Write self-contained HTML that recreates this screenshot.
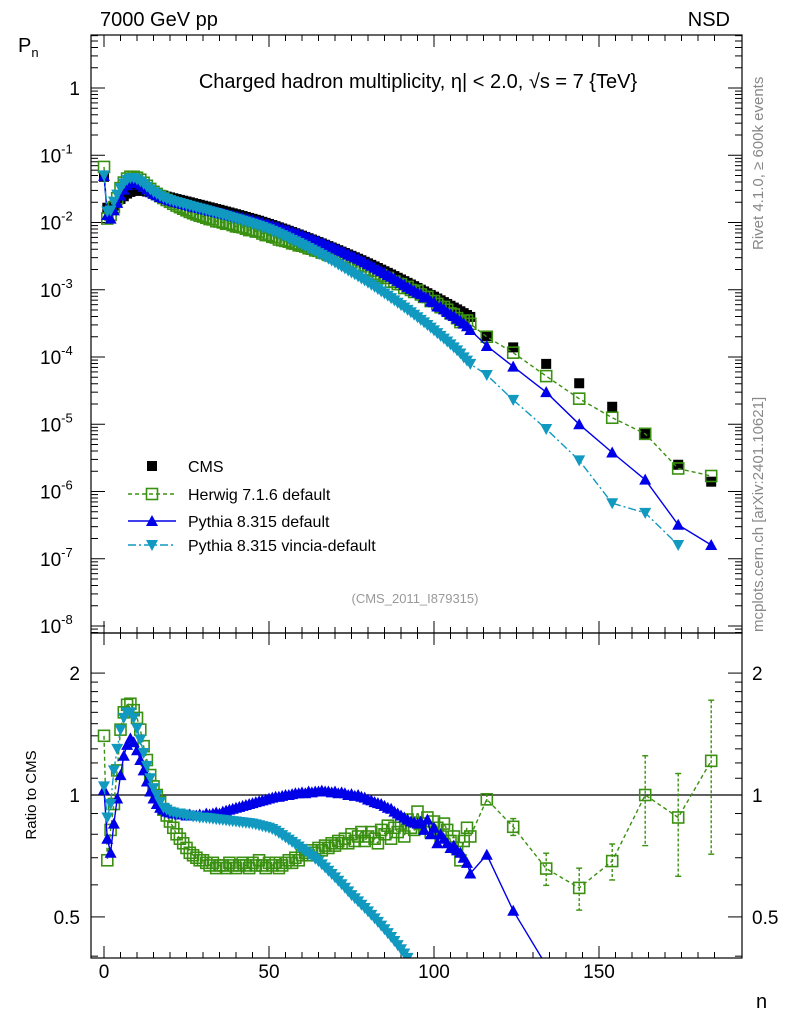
<!DOCTYPE html>
<html><head><meta charset="utf-8"><style>
html,body{margin:0;padding:0;background:#fff;width:786px;height:1024px;overflow:hidden;}
svg{display:block;font-family:"Liberation Sans",sans-serif;}
</style></head><body>
<svg id="chart" width="786" height="1024" viewBox="0 0 786 1024">
<defs>
<clipPath id="clipMain"><rect x="91" y="35" width="651" height="598"/></clipPath>
<clipPath id="clipRatio"><rect x="91" y="633" width="651" height="325"/></clipPath>
</defs>
<text x="100" y="26" font-size="20">7000 GeV pp</text>
<text x="730" y="26" font-size="20" text-anchor="end">NSD</text>
<text x="418" y="88" font-size="20" text-anchor="middle">Charged hadron multiplicity, η| &lt; 2.0, √s = 7 {TeV}</text>
<text x="415" y="603" font-size="13" fill="#999" text-anchor="middle">(CMS_2011_I879315)</text>
<text transform="translate(763,250) rotate(-90)" font-size="15" fill="#888">Rivet 4.1.0, ≥ 600k events</text>
<text transform="translate(763,632) rotate(-90)" font-size="15" fill="#888">mcplots.cern.ch [arXiv:2401.10621]</text>
<text x="18" y="52" font-size="20">P<tspan font-size="13" dy="5">n</tspan></text>
<text transform="translate(36,795) rotate(-90)" font-size="15" text-anchor="middle">Ratio to CMS</text>
<text x="756" y="1008" font-size="20">n</text>
<g id="axes"></g>
<g id="mainMarks" clip-path="url(#clipMain)"></g>
<g id="ratioMarks" clip-path="url(#clipRatio)"></g>
<g id="legend"></g>
<rect x="91" y="35" width="651" height="598" fill="none" stroke="#000" stroke-width="1.2"/>
<rect x="91" y="633" width="651" height="325" fill="none" stroke="#000" stroke-width="1.2"/>
</svg>
<script>
// ---- data ----
const cmsLog10 = [-1.32,-1.78,-1.80,-1.75,-1.70,-1.65,-1.61,-1.57,-1.545,-1.53,-1.525,-1.525,-1.53,-1.54,-1.55,-1.565,-1.575,-1.59,
-1.60,-1.615,-1.627,-1.64,-1.652,-1.664,-1.676,-1.688,-1.70,-1.713,-1.725,-1.737,-1.75,-1.762,-1.775,-1.787,-1.80,-1.812,-1.825,-1.838,-1.851,-1.864,-1.877,-1.89,-1.904,-1.918,-1.932,-1.946,-1.96,-1.974,
-1.990,-2.006,-2.022,-2.038,-2.055,-2.072,-2.089,-2.106,-2.124,-2.142,-2.160,-2.178,-2.196,-2.215,-2.234,-2.253,-2.272,-2.291,-2.311,-2.331,-2.351,-2.371,-2.391,-2.412,-2.433,-2.454,-2.475,-2.496,-2.517,-2.539,-2.561,
-2.584,-2.607,-2.630,-2.653,-2.677,-2.701,-2.725,-2.749,-2.773,-2.797,-2.822,-2.847,-2.872,-2.897,-2.922,-2.947,-2.973,-2.999,-3.025,-3.051,-3.077,-3.103,-3.130,-3.157,-3.184,-3.211,-3.238,-3.265,-3.292,-3.320,-3.348,-3.376,-3.404];
const herwigRatio = [1.40,0.69,0.82,0.95,1.15,1.45,1.60,1.67,1.68,1.62,1.55,1.45,1.32,1.22,1.12,1.05,1.00,0.96,0.92,0.89,0.86,0.83,0.80,0.78,0.76,0.74,0.72,0.71,0.70,0.69,0.69,0.68,0.67,0.68,0.66,0.67,0.67,0.66,0.68,0.67,0.66,0.67,0.68,0.67,0.66,0.68,0.67,0.69,0.67,0.66,0.68,0.67,0.68,0.66,0.67,0.68,0.69,0.68,0.70,0.69,0.71,0.72,0.71,0.73,0.72,0.74,0.73,0.75,0.74,0.76,0.75,0.77,0.76,0.78,0.76,0.80,0.77,0.79,0.81,0.77,0.79,0.81,0.78,0.76,0.82,0.80,0.84,0.78,0.83,0.81,0.85,0.79,0.87,0.83,0.82,0.91,0.85,0.83,0.88,0.81,0.86,0.83,0.79,0.85,0.82,0.77,0.79,0.74,0.69,0.77,0.83,0.79];
const pythiaRatio = [1.03,0.78,0.72,0.85,0.98,1.12,1.25,1.33,1.38,1.35,1.29,1.22,1.15,1.08,1.02,0.98,0.95,0.93,0.92,0.91,0.905,0.90,0.90,0.895,0.895,0.89,0.895,0.89,0.89,0.895,0.89,0.90,0.895,0.90,0.905,0.90,0.91,0.915,0.92,0.925,0.93,0.935,0.94,0.945,0.95,0.955,0.96,0.965,0.97,0.975,0.98,0.985,0.99,0.99,0.995,1.0,1.0,1.005,1.01,1.01,1.015,1.01,1.02,1.015,1.02,1.02,1.025,1.02,1.02,1.015,1.02,1.01,1.015,1.01,1.0,1.005,0.995,1.0,0.99,0.985,0.975,0.97,0.96,0.955,0.95,0.94,0.93,0.925,0.91,0.90,0.89,0.88,0.87,0.86,0.855,0.85,0.86,0.82,0.87,0.80,0.83,0.76,0.80,0.78,0.76,0.74,0.75,0.73,0.72,0.70,0.68,0.64];
const vinciaRatio = [1.05,0.88,0.95,1.15,1.30,1.45,1.55,1.60,1.60,1.55,1.46,1.37,1.27,1.18,1.10,1.04,1.00,0.96,0.93,0.92,0.91,0.905,0.90,0.90,0.895,0.89,0.89,0.885,0.885,0.88,0.88,0.878,0.876,0.874,0.872,0.87,0.868,0.866,0.864,0.862,0.86,0.858,0.856,0.854,0.852,0.85,0.846,0.842,0.838,0.834,0.83,0.824,0.816,0.806,0.796,0.786,0.776,0.766,0.756,0.746,0.736,0.726,0.716,0.706,0.696,0.686,0.674,0.662,0.650,0.638,0.626,0.614,0.602,0.590,0.578,0.566,0.556,0.546,0.536,0.526,0.516,0.506,0.496,0.486,0.476,0.466,0.456,0.446,0.436,0.426,0.416,0.406,0.396,0.386,0.376,0.366,0.356,0.346,0.336,0.326,0.316,0.306,0.296,0.286,0.276,0.266,0.256,0.246,0.236,0.22,0.21,0.20];
// wide bins
const wideN = [116,124,134,144,154,164,174,184];
const cmsWide = [2.05e-4,1.39e-4,7.9e-5,4.07e-5,1.82e-5,7.2e-6,2.5e-6,1.4e-6];
const herwigWide = [2.0e-4,1.16e-4,5.2e-5,2.4e-5,1.25e-5,7.2e-6,2.2e-6,1.7e-6];
const pythiaWide = [1.46e-4,7.2e-5,3.0e-5,1.0e-5,3.8e-6,1.5e-6,3.2e-7,1.6e-7];
const vinciaWide = [5.4e-5,2.3e-5,8.5e-6,2.9e-6,6.7e-7,4.8e-7,1.6e-7,null];
const herwigWideRatioErr = [0.03,0.04,0.06,0.07,0.07,0.25,0.25,0.5];
const xTicks = [0,50,100,150];
const ratioTicks = [0.5,1,2];

// ---- axis functions ----
const NS = "http://www.w3.org/2000/svg";
const xS = n => 104 + 3.3*n;
const yMain = p => 88 - 67.25*Math.log10(p);
const yRatio = r => 795 - 405*Math.log10(r);
function mk(tag, attrs, parent){const e=document.createElementNS(NS,tag);for(const k in attrs)e.setAttribute(k,attrs[k]);parent.appendChild(e);return e;}

const axes = document.getElementById('axes');
for(let n=0;n<=185;n+=5){
  const major = n%50===0;
  const len = major?12:6;
  const X=xS(n);
  mk('line',{x1:X,x2:X,y1:633,y2:633-len,stroke:'#000'},axes);
  mk('line',{x1:X,x2:X,y1:35,y2:35+len,stroke:'#000'},axes);
  mk('line',{x1:X,x2:X,y1:958,y2:958-len,stroke:'#000'},axes);
  mk('line',{x1:X,x2:X,y1:633,y2:633+len,stroke:'#000'},axes);
}
xTicks.forEach(v=>{
  const t=mk('text',{x:xS(v),y:978,'font-size':19,'text-anchor':'middle'},axes);
  
  
  t.textContent=v;
});
for(let d=-9; d<=0; d++){
  for(let m=1;m<=9;m++){
    const p=m*Math.pow(10,d); const Y=yMain(p);
    if(Y<35||Y>633) continue;
    const len=m===1?14:7;
    mk('line',{x1:91,x2:91+len,y1:Y,y2:Y,stroke:'#000'},axes);
    mk('line',{x1:742,x2:742-len,y1:Y,y2:Y,stroke:'#000'},axes);
  }
  const Y=yMain(Math.pow(10,d));
  if(Y>=35&&Y<=633){
    const t=mk('text',{x:80,y:Y+7,'font-size':19,'text-anchor':'end'},axes);
    
    
    if(d===0){t.textContent='1';}
    else{t.innerHTML='10<tspan font-size="13" dy="-9">'+d+'</tspan>';t.setAttribute('x',40);t.setAttribute('text-anchor','start');}
  }
}
[0.4,0.5,0.6,0.7,0.8,0.9,1,2].forEach(r=>{
  const Y=yRatio(r); const major=(r===0.5||r===1||r===2);
  const len=major?14:7;
  mk('line',{x1:91,x2:91+len,y1:Y,y2:Y,stroke:'#000'},axes);
  mk('line',{x1:742,x2:742-len,y1:Y,y2:Y,stroke:'#000'},axes);
});
[1.1,1.2,1.3,1.4,1.5,1.6,1.7,1.8,1.9].forEach(r=>{
  const Y=yRatio(r);
  mk('line',{x1:91,x2:98,y1:Y,y2:Y,stroke:'#000'},axes);
  mk('line',{x1:742,x2:735,y1:Y,y2:Y,stroke:'#000'},axes);
});
ratioTicks.forEach(r=>{
  const Y=yRatio(r);
  const t=mk('text',{x:80,y:Y+7,'font-size':19,'text-anchor':'end'},axes);
  
  
  t.textContent=r;
  const t2=mk('text',{x:752,y:Y+7,'font-size':19},axes);
  
  
  t2.textContent=r;
});
const ref=mk('line',{x1:91,x2:742,y1:yRatio(1),y2:yRatio(1),stroke:'#000','stroke-width':1.2},axes);



// ---- series build ----
const cmsN=[], cmsP=[];
cmsLog10.forEach((l,i)=>{cmsN.push(i);cmsP.push(Math.pow(10,l));});
wideN.forEach((n,i)=>{cmsN.push(n);cmsP.push(cmsWide[i]);});
function modelSeries(ratioArr, wideArr){
  const N=[],P=[],R=[];
  ratioArr.forEach((r,i)=>{N.push(i);P.push(Math.pow(10,cmsLog10[i])*r);R.push(r);});
  wideArr.forEach((v,i)=>{if(v===null)return;N.push(wideN[i]);P.push(v);R.push(v/cmsWide[i]);});
  return {N,P,R};
}
const herwig=modelSeries(herwigRatio,herwigWide);
const pythia=modelSeries(pythiaRatio,pythiaWide);
const vincia=modelSeries(vinciaRatio,vinciaWide);

const GREEN='#3a9010', BLUE='#0000e8', CYAN='#1199c0';
function marker(g,type,X,Y,color){
  let e;
  if(type==='sq') e=mk('rect',{x:X-5,y:Y-5,width:10,height:10,fill:'#000'},g);
  else if(type==='osq') e=mk('rect',{x:X-5.5,y:Y-5.5,width:11,height:11,fill:'none',stroke:color,'stroke-width':1.6},g);
  else if(type==='up') e=mk('polygon',{points:`${X},${Y-6} ${X-6},${Y+5} ${X+6},${Y+5}`,fill:color},g);
  else e=mk('polygon',{points:`${X},${Y+6} ${X-6},${Y-5} ${X+6},${Y-5}`,fill:color},g);
  return e;
}
function drawLine(g,N,V,ymap,color,dash,name){
  const d=N.map((n,i)=>(i?'L':'M')+xS(n).toFixed(1)+','+ymap(V[i]).toFixed(1)).join(' ');
  const p=mk('path',{d:d,fill:'none',stroke:color,'stroke-width':1.4,'stroke-dasharray':dash},g);
  
  
}
const mainG=document.getElementById('mainMarks');
const ratioG=document.getElementById('ratioMarks');
cmsN.forEach((n,i)=>{
  const e=marker(mainG,'sq',xS(n),yMain(cmsP[i]));
  
  
});
const series=[
  {s:herwig,type:'osq',color:GREEN,dash:'4,3',name:'herwig'},
  {s:pythia,type:'up',color:BLUE,dash:'none',name:'pythia-default'},
  {s:vincia,type:'down',color:CYAN,dash:'8,3,2,3',name:'pythia-vincia'}
];
series.forEach(o=>{
  drawLine(mainG,o.s.N,o.s.P,yMain,o.color,o.dash,o.name+'-line');
  drawLine(ratioG,o.s.N,o.s.R,yRatio,o.color,o.dash,o.name+'-ratio-line');
  o.s.N.forEach((n,i)=>{
    const e=marker(mainG,o.type,xS(n),yMain(o.s.P[i]),o.color);
    
    
    const e2=marker(ratioG,o.type,xS(n),yRatio(o.s.R[i]),o.color);
    
    
  });
});
wideN.forEach((n,i)=>{
  const r=herwigWide[i]/cmsWide[i], er=herwigWideRatioErr[i];
  const X=xS(n);
  const lo=Math.max(r-er,0.3);
  const l=mk('line',{x1:X,x2:X,y1:yRatio(r+er),y2:yRatio(lo),stroke:GREEN,'stroke-width':1.4,'stroke-dasharray':'3,2'},ratioG);
  
  
  mk('line',{x1:X-3,x2:X+3,y1:yRatio(r+er),y2:yRatio(r+er),stroke:GREEN,'stroke-width':1.4},ratioG);
  mk('line',{x1:X-3,x2:X+3,y1:yRatio(lo),y2:yRatio(lo),stroke:GREEN,'stroke-width':1.4},ratioG);
});
const lg=document.getElementById('legend');
const entries=[
  {label:'CMS',type:'sq',color:'#000',dash:null,y:466},
  {label:'Herwig 7.1.6 default',type:'osq',color:GREEN,dash:'4,3',y:494},
  {label:'Pythia 8.315 default',type:'up',color:BLUE,dash:'none',y:521},
  {label:'Pythia 8.315 vincia-default',type:'down',color:CYAN,dash:'8,3,2,3',y:545}
];
entries.forEach(en=>{
  const g=mk('g',{},lg);
  
  
  if(en.dash) mk('line',{x1:128,x2:176,y1:en.y,y2:en.y,stroke:en.color,'stroke-width':1.4,'stroke-dasharray':en.dash},g);
  marker(g,en.type,152,en.y,en.color);
  const t=mk('text',{x:188,y:en.y+6,'font-size':16},g);
  t.textContent=en.label;
});
</script>
</body></html>
